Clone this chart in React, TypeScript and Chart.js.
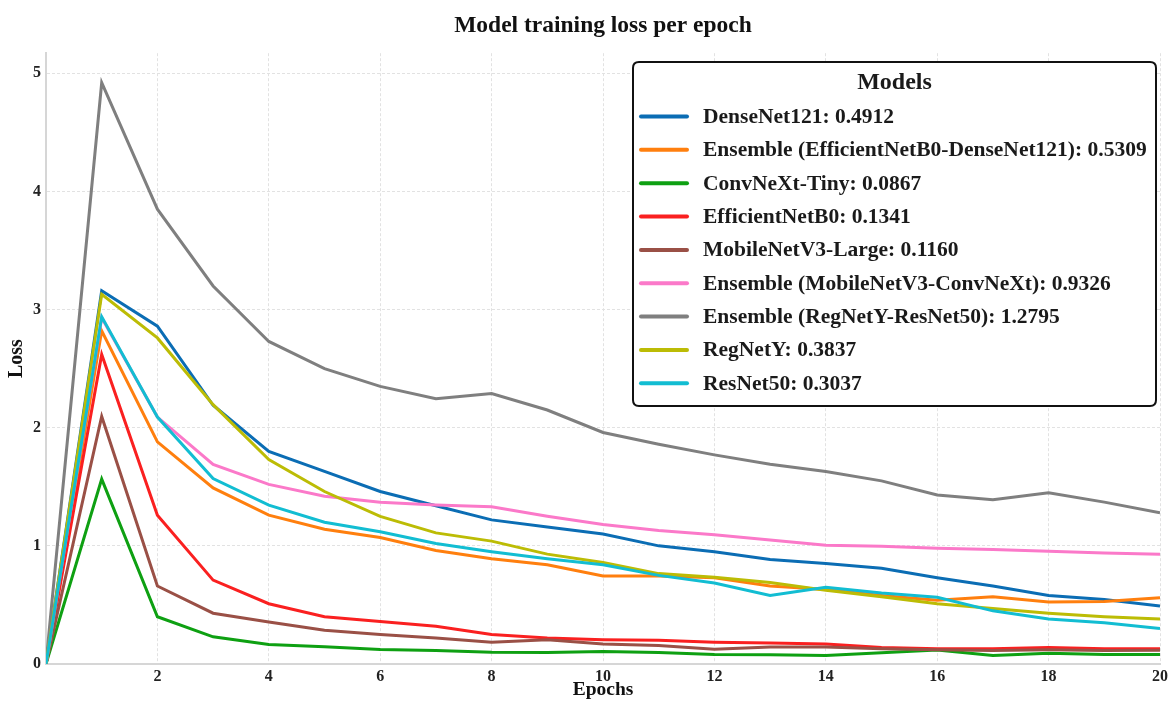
import React, { useEffect, useRef } from "react";
import { Chart, registerables } from "chart.js";

Chart.register(...registerables);

const epochs = [0, 1, 2, 3, 4, 5, 6, 7, 8, 9, 10, 11, 12, 13, 14, 15, 16, 17, 18, 19, 20];

const modelNames = [
  "DenseNet121",
  "Ensemble (EfficientNetB0-DenseNet121)",
  "ConvNeXt-Tiny",
  "EfficientNetB0",
  "MobileNetV3-Large",
  "Ensemble (MobileNetV3-ConvNeXt)",
  "Ensemble (RegNetY-ResNet50)",
  "RegNetY",
  "ResNet50",
];

const finalLossLabels = ["0.4912", "0.5309", "0.0867", "0.1341", "0.1160", "0.9326", "1.2795", "0.3837", "0.3037"];

const seriesColors = [
  "#0b6db4",
  "#ff7f0e",
  "#0ea012",
  "#fa2020",
  "#9a5046",
  "#fb79c9",
  "#7f7f7f",
  "#bcbc05",
  "#12bdd2",
];

const denseNet121 = [0, 3.16, 2.86, 2.19, 1.8, 1.63, 1.46, 1.34, 1.22, 1.16, 1.1, 1.0, 0.95, 0.885, 0.85, 0.81, 0.73, 0.66, 0.58, 0.545, 0.49];
const ensembleEffDense = [0, 2.82, 1.88, 1.49, 1.26, 1.14, 1.07, 0.96, 0.89, 0.84, 0.745, 0.745, 0.73, 0.66, 0.63, 0.58, 0.54, 0.57, 0.525, 0.53, 0.56];
const convNeXtTiny = [0, 1.565, 0.4, 0.23, 0.165, 0.145, 0.123, 0.115, 0.1, 0.097, 0.106, 0.097, 0.08, 0.078, 0.072, 0.095, 0.118, 0.072, 0.092, 0.08, 0.08];
const efficientNetB0 = [0, 2.62, 1.26, 0.71, 0.51, 0.4, 0.36, 0.32, 0.25, 0.22, 0.205, 0.2, 0.185, 0.177, 0.17, 0.14, 0.13, 0.13, 0.14, 0.13, 0.13];
const mobileNetV3 = [0, 2.095, 0.66, 0.43, 0.355, 0.285, 0.25, 0.22, 0.185, 0.205, 0.17, 0.157, 0.125, 0.143, 0.143, 0.13, 0.12, 0.115, 0.12, 0.115, 0.116];
const ensembleMobConv = [0, 2.93, 2.09, 1.69, 1.52, 1.42, 1.37, 1.345, 1.33, 1.25, 1.18, 1.13, 1.095, 1.05, 1.005, 0.997, 0.98, 0.97, 0.955, 0.94, 0.93];
const ensembleRegRes = [0, 4.92, 3.85, 3.2, 2.73, 2.5, 2.35, 2.245, 2.29, 2.15, 1.96, 1.86, 1.77, 1.69, 1.63, 1.55, 1.43, 1.39, 1.45, 1.37, 1.28];
const regNetY = [0, 3.13, 2.76, 2.195, 1.73, 1.46, 1.25, 1.11, 1.04, 0.93, 0.86, 0.765, 0.735, 0.69, 0.625, 0.57, 0.51, 0.47, 0.43, 0.4, 0.38];
const resNet50 = [0, 2.94, 2.09, 1.57, 1.345, 1.2, 1.12, 1.02, 0.95, 0.89, 0.84, 0.75, 0.685, 0.58, 0.65, 0.6, 0.565, 0.45, 0.38, 0.35, 0.3];

const seriesValues = [
  denseNet121,
  ensembleEffDense,
  convNeXtTiny,
  efficientNetB0,
  mobileNetV3,
  ensembleMobConv,
  ensembleRegRes,
  regNetY,
  resNet50,
];

const xTickLabels = ["2", "4", "6", "8", "10", "12", "14", "16", "18", "20"];
const yTickLabels = ["0", "1", "2", "3", "4", "5"];

const SERIF = '"Liberation Serif", "Times New Roman", serif';
const GRID = "#e2e2e2";

const boxedLegend = {
  id: "boxedLegend",
  afterDraw(chart: any) {
    const ctx = chart.ctx as CanvasRenderingContext2D;
    const bx = 633, by = 62, bw = 523, bh = 344, r = 6;
    ctx.save();
    ctx.beginPath();
    ctx.moveTo(bx + r, by);
    ctx.lineTo(bx + bw - r, by);
    ctx.quadraticCurveTo(bx + bw, by, bx + bw, by + r);
    ctx.lineTo(bx + bw, by + bh - r);
    ctx.quadraticCurveTo(bx + bw, by + bh, bx + bw - r, by + bh);
    ctx.lineTo(bx + r, by + bh);
    ctx.quadraticCurveTo(bx, by + bh, bx, by + bh - r);
    ctx.lineTo(bx, by + r);
    ctx.quadraticCurveTo(bx, by, bx + r, by);
    ctx.closePath();
    ctx.fillStyle = "#ffffff";
    ctx.fill();
    ctx.lineWidth = 2;
    ctx.strokeStyle = "#111111";
    ctx.stroke();

    ctx.fillStyle = "#1a1a1a";
    ctx.textBaseline = "middle";
    ctx.textAlign = "center";
    ctx.font = `bold 24px ${SERIF}`;
    ctx.fillText("Models", bx + bw / 2, 83);

    ctx.textAlign = "left";
    ctx.font = `bold 21.5px ${SERIF}`;
    chart.data.datasets.forEach((ds: any, i: number) => {
      const cy = 116.5 + i * 33.35;
      ctx.beginPath();
      ctx.lineCap = "round";
      ctx.lineWidth = 4;
      ctx.strokeStyle = ds.borderColor;
      ctx.moveTo(641, cy);
      ctx.lineTo(687, cy);
      ctx.stroke();
      ctx.fillText(ds.label, 703, cy + 1);
    });
    ctx.restore();
  },
};

export default function App() {
  const canvasRef = useRef<HTMLCanvasElement | null>(null);

  useEffect(() => {
    document.body.style.margin = "0";
    const canvas = canvasRef.current;
    if (!canvas) return;

    const datasets = modelNames.map((name, i) => ({
      label: `${name}: ${finalLossLabels[i]}`,
      data: epochs.map((e, j) => ({ x: e, y: seriesValues[i][j] })),
      borderColor: seriesColors[i],
      backgroundColor: seriesColors[i],
      borderWidth: 3,
      pointRadius: 0,
      tension: 0,
      fill: false,
      order: modelNames.length - i,
    }));

    const chart = new Chart(canvas, {
      type: "line",
      data: { datasets },
      plugins: [boxedLegend],
      options: {
        animation: false,
        responsive: false,
        devicePixelRatio: 1,
        layout: { padding: { left: 0, right: 14, top: 0, bottom: 0 } },
        plugins: {
          legend: { display: false },
          tooltip: { enabled: false },
          title: {
            display: true,
            fullSize: false,
            text: "Model training loss per epoch",
            color: "#111",
            font: { family: SERIF, size: 23.5, weight: "bold" },
            padding: { top: 12, bottom: 13 },
          },
        },
        scales: {
          x: {
            type: "linear",
            min: 0,
            max: 20,
            afterFit: (s: any) => {
              s.height = 38;
            },
            ticks: {
              stepSize: 2,
              padding: 3,
              color: "#222",
              font: { family: SERIF, size: 16, weight: "bold" },
              callback: (v: any) => {
                const idx = xTickLabels.indexOf(String(v));
                return idx >= 0 ? xTickLabels[idx] : "";
              },
            },
            grid: {
              color: GRID,
              lineWidth: 1,
              drawTicks: false,
            },
            border: { display: true, color: "#d6d6d6", width: 2, dash: [3, 2] as any },
            title: {
              display: true,
              text: "Epochs",
              color: "#111",
              font: { family: SERIF, size: 19.5, weight: "bold" },
              padding: { top: 0, bottom: 0 },
            },
          },
          y: {
            type: "linear",
            min: 0,
            max: 5.17,
            afterFit: (s: any) => {
              s.width = 46;
            },
            ticks: {
              stepSize: 1,
              padding: 5,
              color: "#222",
              font: { family: SERIF, size: 16, weight: "bold" },
              callback: (v: any) => {
                const idx = yTickLabels.indexOf(String(v));
                return idx >= 0 ? yTickLabels[idx] : "";
              },
            },
            grid: {
              color: (c: any) => (Number.isInteger(c.tick?.value) ? GRID : "rgba(0,0,0,0)"),
              lineWidth: 1,
              drawTicks: false,
            },
            border: { display: true, color: "#d6d6d6", width: 2, dash: [3, 2] as any },
            title: {
              display: true,
              text: "Loss",
              color: "#111",
              font: { family: SERIF, size: 20, weight: "bold" },
              padding: { top: 5, bottom: 0 },
            },
          },
        },
      },
    });

    return () => chart.destroy();
  }, []);

  return (
    <div style={{ width: 1174, height: 702, background: "#fff" }}>
      <canvas ref={canvasRef} width={1174} height={702} style={{ display: "block" }} />
    </div>
  );
}
